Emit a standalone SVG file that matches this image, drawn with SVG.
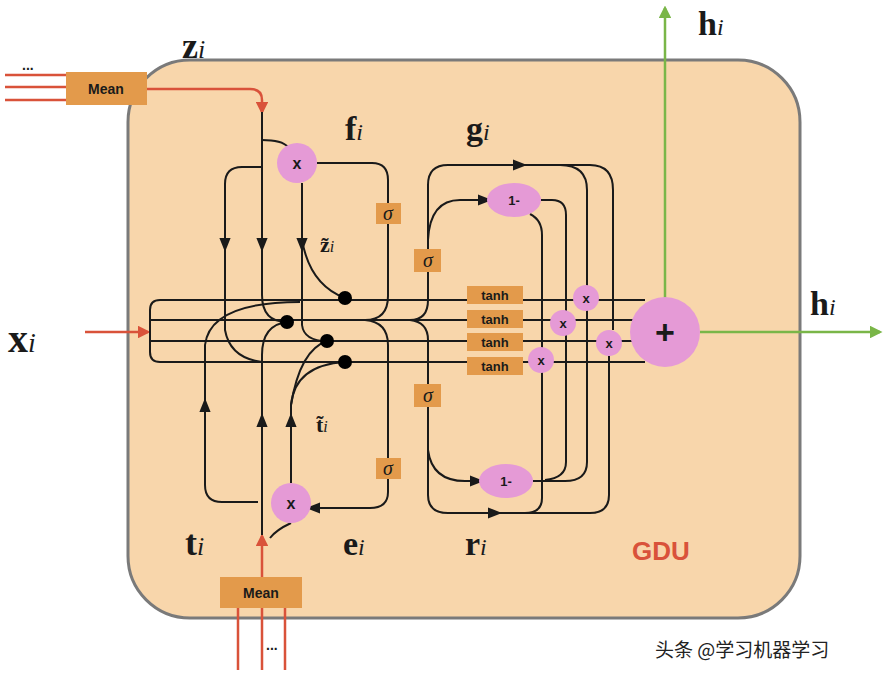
<svg xmlns="http://www.w3.org/2000/svg" width="884" height="680" viewBox="0 0 884 680">
<style>
.w{fill:none;stroke:#1a1a1a;stroke-width:2}
.r{fill:none;stroke:#d9523a;stroke-width:2.5}
.g{fill:none;stroke:#7ab648;stroke-width:2.5}
.box{fill:#e39a4b}
.pk{fill:#e59ad6}
.t{font-family:"Liberation Sans",Arial,sans-serif;font-weight:bold;fill:#1a1a1a}
.m{font-family:"Liberation Serif",serif;font-weight:bold;fill:#1a1a1a}
.s{font-family:"Liberation Serif",serif;font-style:italic;fill:#1a1a1a;font-size:20px}
</style>
<defs>
<marker id="a" viewBox="0 0 10 10" refX="5" refY="5" markerWidth="7" markerHeight="7" orient="auto-start-reverse"><path d="M0,1 L10,5 L0,9 z" fill="#1a1a1a"/></marker>
<marker id="ar" viewBox="0 0 10 10" refX="8" refY="5" markerWidth="5" markerHeight="5" orient="auto"><path d="M0,0 L10,5 L0,10 z" fill="#d9523a"/></marker>
<marker id="ag" viewBox="0 0 10 10" refX="8" refY="5" markerWidth="5" markerHeight="5" orient="auto"><path d="M0,0 L10,5 L0,10 z" fill="#7ab648"/></marker>
</defs>
<rect width="884" height="680" fill="#fff"/>
<rect x="128" y="60" width="672" height="558" rx="62" fill="#f8d6ab" stroke="#7a7a7a" stroke-width="3"/>
<g id="connectors">
<path class="r" d="M5,75 H66 M5,87 H66 M5,100 H66"/>
<path class="r" d="M147,89 H250 Q262,89 262,100 V112" marker-end="url(#ar)"/>
<path class="r" d="M238,608 V670 M262,608 V670 M285,608 V670"/>
<path class="r" d="M262,577 V536" marker-end="url(#ar)"/>
<path class="r" d="M85,332 H148" marker-end="url(#ar)"/>
<path class="g" d="M665,298 V8" marker-end="url(#ag)"/>
<path class="g" d="M700,332 H880" marker-end="url(#ag)"/>
<path class="w" d="M645,300 H160 Q150,300 150,310 V352 Q150,362 160,362 H645 M150,320 H645 M150,341 H645"/>
<path class="w" d="M262,112 V295 Q262,322 287,322"/>
<path class="w" d="M262,140 Q282,140 288,147"/>
<path class="w" d="M262,167 H242 Q225,167 225,184 V330 Q230,358 262,362"/>
<path class="w" d="M225,200 V245" marker-end="url(#a)"/>
<path class="w" d="M262,200 V245" marker-end="url(#a)"/>
<path class="w" d="M302,183 V245" marker-end="url(#a)"/>
<path class="w" d="M302,240 Q310,285 345,298"/>
<path class="w" d="M302,240 V325 Q304,341 327,341"/>
<path class="w" d="M317,163 H372 Q388,163 388,180 V296 Q388,320 365,320"/>
<path class="w" d="M365,320 Q388,322 388,345 V492 Q388,508 370,508 H313" marker-end="url(#a)"/>
<path class="w" d="M291,483 V405 Q295,365 345,362"/>
<path class="w" d="M291,405 Q300,350 327,341"/>
<path class="w" d="M291,470 V420" marker-end="url(#a)"/>
<path class="w" d="M262,535 V355 Q262,325 287,322"/>
<path class="w" d="M262,470 V420" marker-end="url(#a)"/>
<path class="w" d="M258,502 H222 Q205,502 205,485 V345 Q210,302 300,302"/>
<path class="w" d="M205,450 V405" marker-end="url(#a)"/>
<path class="w" d="M291,523 Q276,530 270,538"/>
<path class="w" d="M410,320 Q428,320 428,300 V185 Q428,165 448,165 H590 Q613,165 613,190 V330"/>
<path class="w" d="M428,165 M448,165 H520" marker-end="url(#a)"/>
<path class="w" d="M428,240 Q430,200 460,200 H485" marker-end="url(#a)"/>
<path class="w" d="M541,200 H552 Q566,200 566,215 V462 Q566,478 545,480"/>
<path class="w" d="M560,165 Q587,165 587,190 V462 Q587,481 565,481 H533"/>
<path class="w" d="M530,214 Q542,220 542,235 V498 Q542,513 525,513"/>
<path class="w" d="M410,320 Q428,322 428,340 V495 Q428,513 448,513 H590 Q609,513 609,495 V356"/>
<path class="w" d="M448,513 H495" marker-end="url(#a)"/>
<path class="w" d="M428,450 Q432,481 465,481 H477" marker-end="url(#a)"/>
</g>
<g id="mean-top"><rect class="box" x="66" y="72" width="81" height="33"/><text class="t" x="106" y="94" font-size="14" text-anchor="middle">Mean</text><text class="t" x="22" y="70" font-size="14">...</text></g>
<g id="mean-bottom"><rect class="box" x="220" y="577" width="82" height="31"/><text class="t" x="261" y="598" font-size="14" text-anchor="middle">Mean</text><text class="t" x="266" y="650" font-size="14">...</text></g>
<g id="x-f"><circle class="pk" cx="297" cy="163" r="20"/><text class="t" x="297" y="169" font-size="16" text-anchor="middle">x</text></g>
<g id="x-e"><circle class="pk" cx="291" cy="503" r="20"/><text class="t" x="291" y="509" font-size="16" text-anchor="middle">x</text></g>
<g id="dots"><circle cx="345" cy="298" r="7"/><circle cx="287" cy="322" r="7"/><circle cx="327" cy="341" r="7"/><circle cx="345" cy="362" r="7"/></g>
<g id="sigmas">
<rect class="box" x="376" y="203" width="25" height="21"/><text class="s" x="388" y="220" text-anchor="middle">σ</text>
<rect class="box" x="414" y="249" width="27" height="23"/><text class="s" x="428" y="267" text-anchor="middle">σ</text>
<rect class="box" x="414" y="384" width="27" height="23"/><text class="s" x="428" y="402" text-anchor="middle">σ</text>
<rect class="box" x="376" y="458" width="25" height="21"/><text class="s" x="388" y="475" text-anchor="middle">σ</text>
</g>
<g id="tanh">
<rect class="box" x="467" y="286" width="56" height="18"/><text class="t" x="495" y="300" font-size="13" text-anchor="middle">tanh</text>
<rect class="box" x="467" y="310" width="56" height="18"/><text class="t" x="495" y="324" font-size="13" text-anchor="middle">tanh</text>
<rect class="box" x="467" y="333" width="56" height="18"/><text class="t" x="495" y="347" font-size="13" text-anchor="middle">tanh</text>
<rect class="box" x="467" y="357" width="56" height="18"/><text class="t" x="495" y="371" font-size="13" text-anchor="middle">tanh</text>
</g>
<g id="mults">
<circle class="pk" cx="586" cy="298" r="13"/><text class="t" x="586" y="303" font-size="13" text-anchor="middle">x</text>
<circle class="pk" cx="563" cy="323" r="13"/><text class="t" x="563" y="328" font-size="13" text-anchor="middle">x</text>
<circle class="pk" cx="609" cy="343" r="13"/><text class="t" x="609" y="348" font-size="13" text-anchor="middle">x</text>
<circle class="pk" cx="541" cy="360" r="13"/><text class="t" x="541" y="365" font-size="13" text-anchor="middle">x</text>
</g>
<g id="one-minus">
<ellipse class="pk" cx="514" cy="200" rx="27" ry="17"/><text class="t" x="514" y="205" font-size="13" text-anchor="middle">1-</text>
<ellipse class="pk" cx="506" cy="481" rx="27" ry="17"/><text class="t" x="506" y="486" font-size="13" text-anchor="middle">1-</text>
</g>
<g id="plus"><circle class="pk" cx="665" cy="332" r="35"/><text class="t" x="665" y="344" font-size="34" text-anchor="middle">+</text></g>
<g id="labels">
<text class="m" x="182" y="58" font-size="36">z<tspan font-style="italic" font-size="26" font-weight="normal">i</tspan></text>
<text class="m" x="345" y="140" font-size="34">f<tspan font-style="italic" font-size="24" font-weight="normal">i</tspan></text>
<text class="m" x="466" y="140" font-size="34">g<tspan font-style="italic" font-size="24" font-weight="normal">i</tspan></text>
<text class="m" x="698" y="35" font-size="34">h<tspan font-style="italic" font-size="24" font-weight="normal">i</tspan></text>
<text class="m" x="810" y="315" font-size="34">h<tspan font-style="italic" font-size="24" font-weight="normal">i</tspan></text>
<text class="m" x="8" y="352" font-size="40">x<tspan font-style="italic" font-size="28" font-weight="normal">i</tspan></text>
<text class="m" x="185" y="555" font-size="36">t<tspan font-style="italic" font-size="26" font-weight="normal">i</tspan></text>
<text class="m" x="343" y="555" font-size="34">e<tspan font-style="italic" font-size="24" font-weight="normal">i</tspan></text>
<text class="m" x="465" y="555" font-size="34">r<tspan font-style="italic" font-size="24" font-weight="normal">i</tspan></text>
<text class="m" x="320" y="252" font-size="22">z̃<tspan font-style="italic" font-weight="normal" font-size="16">i</tspan></text>
<text class="m" x="316" y="432" font-size="22">t̃<tspan font-style="italic" font-weight="normal" font-size="16">i</tspan></text>
<text x="632" y="560" font-family="Liberation Sans,Arial,sans-serif" font-weight="bold" font-size="26" fill="#d9523a">GDU</text>
<text x="655" y="657" font-family="Noto Sans CJK SC,sans-serif" font-size="19" fill="#222">头条 @学习机器学习</text>
</g>
</svg>
